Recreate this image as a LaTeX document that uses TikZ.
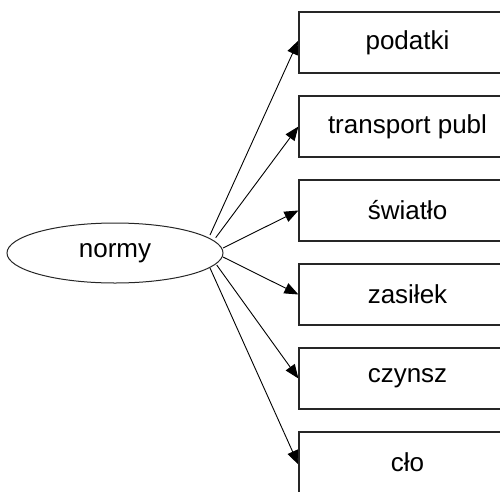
\documentclass[tikz,border=0pt]{standalone}
\usepackage{fontspec}
\setmainfont{Liberation Sans}
\usetikzlibrary{arrows.meta,calc,shapes.geometric}
\pgfdeclarelayer{edges}
\pgfsetlayers{edges,main}
\begin{document}
\begin{tikzpicture}[x=1pt,y=-1pt,
  every node/.style={font=\fontsize{26}{30}\selectfont},
  item/.style={draw=black!85, line width=1.2pt, fill=white, rectangle,
    minimum width=217pt, minimum height=61pt, inner sep=0pt},
  root/.style={draw=black!85, line width=1pt, ellipse,
    minimum width=216pt, minimum height=60pt, inner sep=0pt},
  link/.style={draw=black, line width=0.9pt,
    -{Triangle[length=14pt,width=11pt]}}]
  \useasboundingbox (0,0) rectangle (500,491);

  % source node
  \node[root] (normy) at (115,253) {normy};

  % edge start points on the ellipse rim
  \coordinate (s1) at ($(normy.center)+(95,-18)$);
  \coordinate (s2) at ($(normy.center)+(100.7,-15.3)$);
  \coordinate (s3) at ($(normy.center)+(108,-5)$);
  \coordinate (s4) at ($(normy.center)+(108,4)$);
  \coordinate (s5) at ($(normy.center)+(101.7,12)$);
  \coordinate (s6) at ($(normy.center)+(95,15)$);

  % target boxes
  \node[item] (podatki)   at (407.5,42.5)  {podatki};
  \node[item] (transport) at (407.5,126.5) {transport publ};
  \node[item] (swiatlo)   at (407.5,210.5) {światło};
  \node[item] (zasilek)   at (407.5,294.5) {zasiłek};
  \node[item] (czynsz)    at (407.5,378.5) {czynsz};
  \node[item] (clo)       at (407.5,462.5) {cło};

  % edges, kept beneath the white boxes
  \begin{pgfonlayer}{edges}
    \draw[link] (s1) -- ([yshift=2pt]podatki.west);
    \draw[link] (s2) -- (transport.west);
    \draw[link] (s3) -- (swiatlo.west);
    \draw[link] (s4) -- (zasilek.west);
    \draw[link] (s5) -- (czynsz.west);
    \draw[link] (s6) -- ([yshift=-2pt]clo.west);
  \end{pgfonlayer}
\end{tikzpicture}
\end{document}
